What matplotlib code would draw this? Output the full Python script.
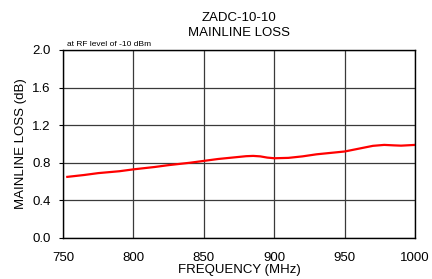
import matplotlib
matplotlib.use("Agg")
import matplotlib.pyplot as plt

plt.rcParams['font.family'] = ['Liberation Sans', 'DejaVu Sans']

# --- data ---
freq = [753, 765, 775, 790, 800, 815, 825, 840, 850, 860, 870, 880, 885, 890, 895, 900,
        910, 920, 930, 940, 950, 960, 970, 978, 985, 990, 1000]
loss = [0.65, 0.67, 0.69, 0.71, 0.73, 0.755, 0.775, 0.80, 0.82, 0.84, 0.855, 0.87, 0.873,
        0.868, 0.855, 0.848, 0.852, 0.868, 0.89, 0.905, 0.92, 0.95, 0.98, 0.99, 0.985,
        0.982, 0.99]
x_ticks = [750, 800, 850, 900, 950, 1000]
y_ticks = [0.0, 0.4, 0.8, 1.2, 1.6, 2.0]

fig = plt.figure(figsize=(4.32, 2.79), dpi=100)
ax = fig.add_axes([0.146, 0.147, 0.815, 0.674])

ax.plot(freq, loss, color='red', linewidth=1.6)

ax.set_xlim(750, 1000)
ax.set_ylim(0, 2.0)
ax.set_xticks(x_ticks)
ax.set_yticks(y_ticks)
ax.set_yticklabels([f"{v:.1f}" for v in y_ticks])
ax.grid(True, color='#3a3a3a', linewidth=0.9)
ax.tick_params(axis='y', labelsize=9.5, length=3, width=0.8, direction='out', pad=6)
ax.tick_params(axis='x', labelsize=9.5, length=0, pad=10)
for s in ax.spines.values():
    s.set_linewidth(1.0)

ax.set_xlabel("FREQUENCY (MHz)", fontsize=9.5, labelpad=0)
ax.set_ylabel("MAINLINE LOSS (dB)", fontsize=9.5, labelpad=4)
ax.set_title("ZADC-10-10\nMAINLINE LOSS", fontsize=9.5, pad=10, linespacing=1.35)
ax.text(0.01, 1.01, "at RF level of -10 dBm", transform=ax.transAxes,
        fontsize=6, va='bottom', ha='left')

fig.savefig("out.png", dpi=100)
